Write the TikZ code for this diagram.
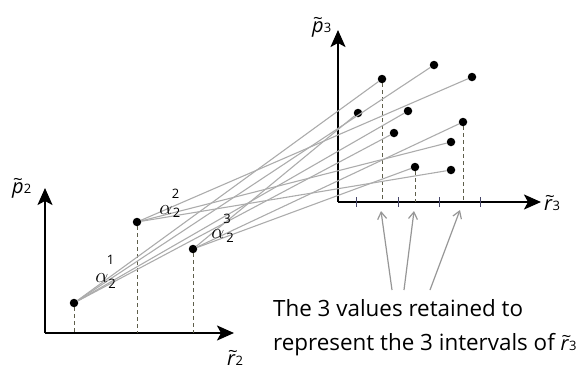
\documentclass[tikz,border=0pt]{standalone}
\usepackage{fontspec}
\setmainfont{Open Sans}
\usetikzlibrary{arrows.meta}
\definecolor{linkgray}{RGB}{172,172,172}
\definecolor{projcol}{RGB}{95,95,75}
\definecolor{tickcol}{RGB}{70,70,105}
\definecolor{ptrgray}{RGB}{150,150,150}
\newcommand{\myvar}[2]{\makebox[0pt][l]{\raisebox{7.5pt}{\hspace{1pt}\fontsize{17}{17}\selectfont\textasciitilde}}\textit{#1}{\fontsize{13}{15}\selectfont #2}}
\begin{document}
\begin{tikzpicture}[x=1pt,y=-1pt,
  axis/.style={line width=2pt,-{Stealth[length=17pt,width=15pt,inset=4pt]}},
  link/.style={draw=linkgray,line width=1.1pt},
  proj/.style={draw=projcol,line width=1pt,dash pattern=on 4pt off 3pt},
  tickthree/.style={draw=tickcol,line width=1pt},
  dot/.style={circle,fill=black,inner sep=0pt,minimum size=8.5pt},
  pointer/.style={draw=ptrgray,line width=1.2pt,-{Straight Barb[length=7pt,width=9pt]}},
  axlbl/.style={inner sep=0pt,anchor=base west,font=\fontsize{20}{24}\selectfont},
  alph/.style={inner sep=0pt,font=\fontsize{21}{24}\selectfont},
  scr/.style={inner sep=0pt,font=\fontsize{13}{15}\selectfont},
  txt/.style={inner sep=0pt,anchor=base west,font=\fontsize{22.4}{26}\selectfont}]
\useasboundingbox (0,0) rectangle (582,373);
% axes
\coordinate (O2) at (45,333);
\coordinate (Y2) at (45,188);
\coordinate (X2) at (234,333);
\coordinate (O3) at (338,202);
\coordinate (Y3) at (338,30);
\coordinate (X3) at (541,202);
\draw[axis] (O2) -- (Y2);
\draw[axis] (O2) -- (X2);
\draw[axis] (O3) -- (Y3);
\draw[axis] (O3) -- (X3);
% ticks
\foreach \tx in {356,398,439,480}{\draw[tickthree] (\tx,197) -- (\tx,207);}
% points
\node[dot] (P1) at (74,303) {};
\node[dot] (P2) at (137,222) {};
\node[dot] (P3) at (193,249) {};
\node[dot] (R1) at (358,113) {};
\node[dot] (R2) at (382,79) {};
\node[dot] (R3) at (434,65) {};
\node[dot] (R4) at (472,77) {};
\node[dot] (R5) at (408,111) {};
\node[dot] (R6) at (394,133) {};
\node[dot] (R7) at (463,122) {};
\node[dot] (R8) at (451,142) {};
\node[dot] (R9) at (415,167) {};
\node[dot] (R10) at (451,170) {};
% projections
\draw[proj] (P1) -- (P1 |- O2);
\draw[proj] (P2) -- (P2 |- O2);
\draw[proj] (P3) -- (P3 |- O2);
\draw[proj] (R2) -- (R2 |- O3);
\draw[proj] (R9) -- (R9 |- O3);
\draw[proj] (R7) -- (R7 |- O3);
% links
\draw[link] (P1) -- (R2);
\draw[link] (P1) -- (R3);
\draw[link] (P1) -- (R5);
\draw[link] (P1) -- (R6);
\draw[link] (P2) -- (R4);
\draw[link] (P2) -- (R8);
\draw[link] (P2) -- (R10);
\draw[link] (P3) -- (R1);
\draw[link] (P3) -- (R7);
\draw[link] (P3) -- (R9);
% axis labels
\node[axlbl] (lp2) at (12,193) {\myvar{p}{2}};
\node[axlbl] (lr2) at (227,365) {\myvar{r}{2}};
\node[axlbl] (lp3) at (312,32) {\myvar{p}{3}};
\node[axlbl] (lr3) at (544,210) {\myvar{r}{3}};
% alpha labels
\node[alph] (a1) at (102,278) {$\alpha$};
\node[scr] (a1sub) at (112,284) {2};
\node[scr] (a1sup) at (110.5,260) {1};
\node[alph] (a2) at (166,210) {$\alpha$};
\node[scr] (a2sub) at (176.5,212.5) {2};
\node[scr] (a2sup) at (175.5,193.5) {2};
\node[alph] (a3) at (218,234) {$\alpha$};
\node[scr] (a3sub) at (230,237.5) {2};
\node[scr] (a3sup) at (227,219) {3};
% caption
\node[txt] (t1) at (273,316) {The 3 values retained to};
\node[txt] (t2) at (273,350) {represent the 3 intervals of \fontsize{20}{24}\selectfont\myvar{r}{3}};
% pointers
\coordinate (A1s) at (392,290);
\coordinate (A1e) at (381,211);
\coordinate (A2s) at (404,290);
\coordinate (A2e) at (414,211);
\coordinate (A3s) at (430,290);
\coordinate (A3e) at (460,210);
\draw[pointer] (A1s) -- (A1e);
\draw[pointer] (A2s) -- (A2e);
\draw[pointer] (A3s) -- (A3e);
\end{tikzpicture}
\end{document}
